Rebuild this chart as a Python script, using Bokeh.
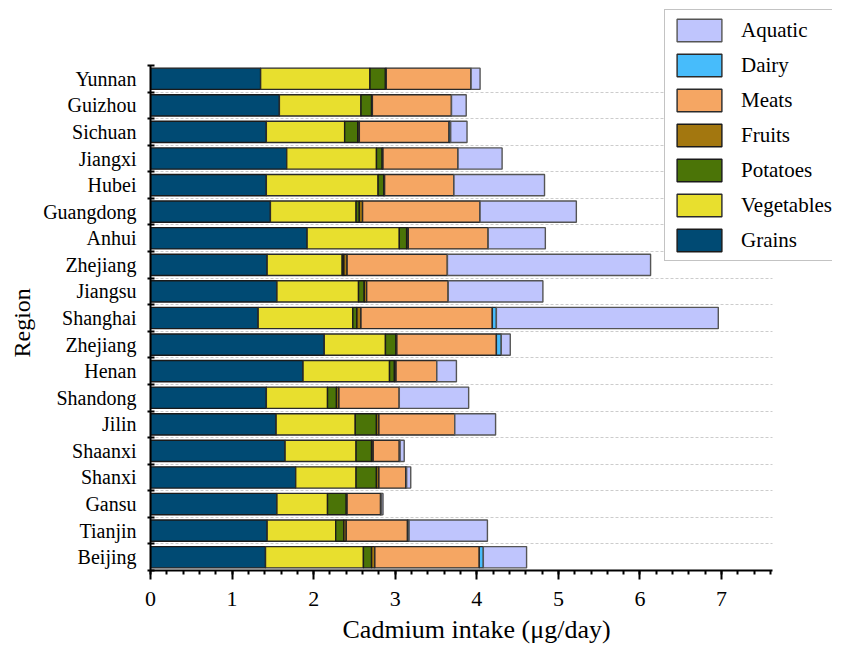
from bokeh.plotting import figure
from bokeh.models import ColumnDataSource, FixedTicker, Legend, LegendItem, Range1d, Title
from bokeh.embed import file_html
from bokeh.resources import INLINE

# Regions from bottom to top
regions = ["Beijing", "Tianjin", "Gansu", "Shanxi", "Shaanxi", "Jilin", "Shandong",
           "Henan", "Zhejiang", "Shanghai", "Jiangsu", "Zhejiang", "Anhui",
           "Guangdong", "Hubei", "Jiangxi", "Sichuan", "Guizhou", "Yunnan"]

grains     = [1.41, 1.43, 1.55, 1.78, 1.65, 1.54, 1.42, 1.87, 2.13, 1.32, 1.55, 1.43, 1.92, 1.47, 1.42, 1.67, 1.42, 1.58, 1.35]
vegetables = [1.20, 0.84, 0.62, 0.74, 0.87, 0.97, 0.75, 1.06, 0.75, 1.16, 1.00, 0.92, 1.13, 1.05, 1.37, 1.10, 0.96, 1.00, 1.34]
potatoes   = [0.10, 0.10, 0.23, 0.25, 0.19, 0.26, 0.11, 0.06, 0.13, 0.05, 0.07, 0.02, 0.09, 0.04, 0.07, 0.07, 0.16, 0.13, 0.19]
fruits     = [0.04, 0.03, 0.01, 0.03, 0.02, 0.03, 0.03, 0.02, 0.01, 0.05, 0.03, 0.04, 0.02, 0.04, 0.01, 0.01, 0.02, 0.01, 0.01]
meats      = [1.28, 0.75, 0.41, 0.33, 0.32, 0.93, 0.74, 0.50, 1.22, 1.61, 1.00, 1.23, 0.98, 1.44, 0.85, 0.92, 1.10, 0.97, 1.04]
dairy      = [0.05, 0.02, 0.01, 0.01, 0.01, 0.00, 0.00, 0.00, 0.06, 0.05, 0.00, 0.00, 0.00, 0.00, 0.00, 0.00, 0.02, 0.00, 0.00]
aquatic    = [0.53, 0.96, 0.02, 0.05, 0.05, 0.50, 0.85, 0.24, 0.11, 2.72, 1.16, 2.49, 0.70, 1.18, 1.11, 0.54, 0.20, 0.18, 0.11]

series = ["Grains", "Vegetables", "Potatoes", "Fruits", "Meats", "Dairy", "Aquatic"]
colors = ["#004a73", "#e8df2e", "#4b7407", "#a3770f", "#f5a663", "#47bcfb", "#bfc5fd"]
edges = ["#1a1a1a", "#2a2a2a", "#1a1a1a", "#1a1a1a", "#2a2a2a", "#2a2a2a", "#555555"]

x_ticks = [0, 1, 2, 3, 4, 5, 6, 7]
X_MAX = 7.62          # end of the drawn x axis
X_VIEW = 8.36         # visible range (room for the legend)
Y_VIEW_TOP = 20.87    # visible range above the categories (room for the legend)

FONT = "Liberation Serif"

n = len(regions)
ypos = list(range(n))
src = ColumnDataSource(dict(y=ypos, Grains=grains, Vegetables=vegetables, Potatoes=potatoes,
                            Fruits=fruits, Meats=meats, Dairy=dairy, Aquatic=aquatic))

p = figure(width=832, height=650, x_range=Range1d(0, X_VIEW), y_range=Range1d(-0.5, Y_VIEW_TOP),
           output_backend="svg", toolbar_location=None,
           min_border_left=144, min_border_right=0, min_border_top=2, min_border_bottom=80)
p.outline_line_color = None
p.background_fill_color = "white"
p.xgrid.visible = False
p.ygrid.ticker = FixedTicker(ticks=[i + 0.5 for i in range(n - 1)])
p.ygrid.cross_bounds = (0, X_MAX)
p.ygrid.grid_line_color = "#cccccc"
p.ygrid.grid_line_dash = "3 2"
p.ygrid.grid_line_width = 1

rs = p.hbar_stack(series, y="y", height=0.8, fill_color=colors, line_color=edges,
                  line_width=1.4, source=src)

items = [LegendItem(label=s, renderers=[r]) for s, r in zip(series, rs)][::-1]
legend = Legend(items=items, location=(514, 309), orientation="vertical",
                glyph_width=56, glyph_height=28, spacing=7, padding=6, margin=0,
                label_standoff=14, label_text_font=FONT, label_text_font_size="21px",
                label_text_color="black", border_line_color="#888888", border_line_width=1.2,
                background_fill_color="white", background_fill_alpha=1.0)
p.add_layout(legend, "center")

# x axis
xa = p.xaxis[0]
xa.bounds = (0, X_MAX)
xa.ticker = FixedTicker(ticks=x_ticks, minor_ticks=[round(i * 0.2, 2) for i in range(39)])
xa.axis_line_width = 2
xa.major_tick_line_width = 2
xa.minor_tick_line_width = 2
xa.major_tick_out = 9
xa.major_tick_in = 0
xa.minor_tick_out = 4
xa.minor_tick_in = 0
xa.major_label_text_font = FONT
xa.major_label_text_font_size = "22px"
xa.major_label_text_color = "black"
xa.major_label_standoff = 12

# y axis
ya = p.yaxis[0]
ya.bounds = (-0.5, n - 0.5)
ya.ticker = FixedTicker(ticks=ypos, minor_ticks=[i - 0.5 for i in range(n + 1)])
ya.major_label_overrides = {i: name for i, name in enumerate(regions)}
ya.axis_line_width = 2
ya.major_tick_line_color = None
ya.major_tick_out = 0
ya.major_tick_in = 0
ya.minor_tick_line_width = 2
ya.minor_tick_out = 3
ya.minor_tick_in = 4
ya.major_label_text_font = FONT
ya.major_label_text_font_size = "20px"
ya.major_label_text_color = "black"
ya.major_label_standoff = 11

# axis titles, positioned along the drawn axis extent
xt = Title(text="Cadmium intake (μg/day)", align="left", offset=192, standoff=9,
           text_font=FONT, text_font_size="26px", text_font_style="normal", text_color="black")
p.add_layout(xt, "below")
yt = Title(text="Region", align="left", offset=213, standoff=12,
           text_font=FONT, text_font_size="24px", text_font_style="normal", text_color="black")
p.add_layout(yt, "left")

open("out.html", "w").write(file_html(p, INLINE))
